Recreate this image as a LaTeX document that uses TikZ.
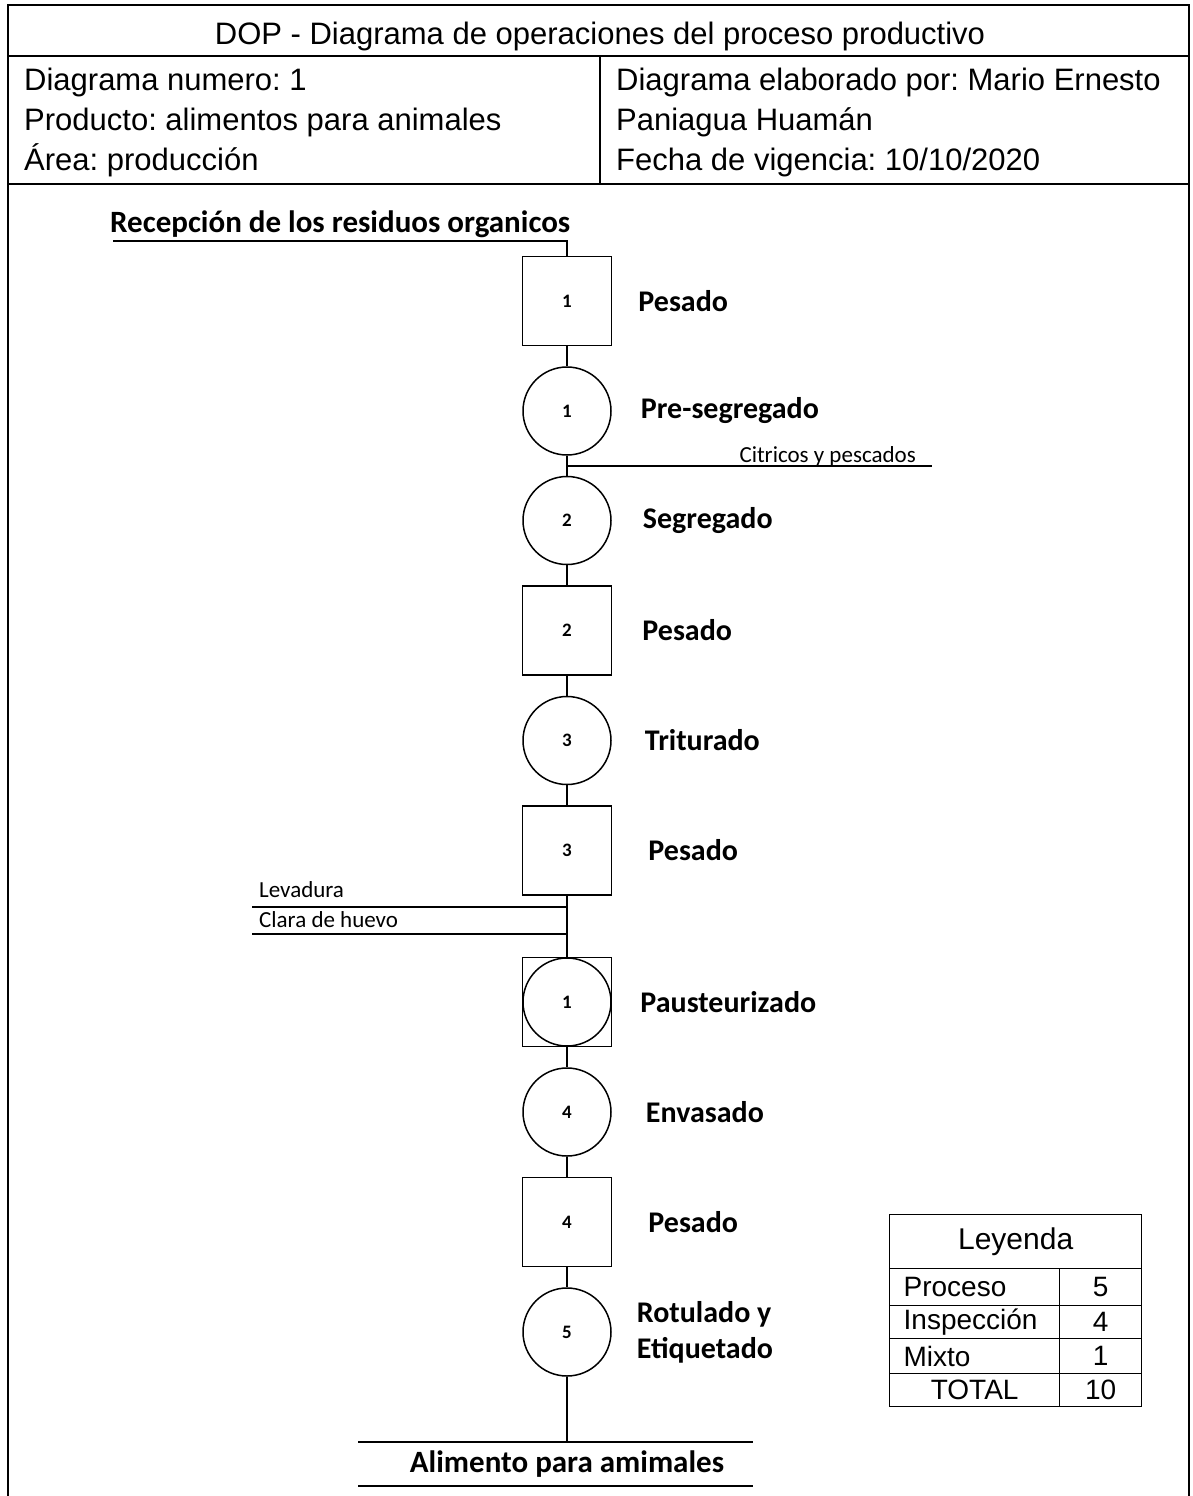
\documentclass[tikz,border=0pt]{standalone}
\usepackage{fontspec}
\setmainfont{Liberation Sans}
\newfontfamily\calibfont{Carlito}
\usetikzlibrary{positioning}
\frenchspacing

\begin{document}
\begin{tikzpicture}[
			x=1pt, y=-1pt,
			node distance=20pt,
			opbox/.style={rectangle, draw, line width=1.5pt, minimum size=89pt, inner sep=0pt, font=\calibfont\bfseries\fontsize{19}{19}\selectfont},
			opcirc/.style={circle, draw, line width=1.5pt, minimum size=88pt, inner sep=0pt, font=\calibfont\bfseries\fontsize{19}{19}\selectfont},
			oplabel/.style={inner sep=0pt, align=left, font=\calibfont\bfseries\fontsize{30}{36}\selectfont},
			sidetext/.style={inner sep=0pt, font=\calibfont\fontsize{23}{23}\selectfont},
			headtext/.style={inner sep=0pt, anchor=base west, font=\fontsize{31}{31}\selectfont},
			legcell/.style={rectangle, draw, line width=1.3pt, inner sep=0pt, font=\fontsize{28}{28}\selectfont},
			flow/.style={line width=1.5pt},
			frame/.style={line width=1.8pt}
			]
			
			\useasboundingbox (0,0) rectangle (1193,1496);
			
			% Header
			\draw[frame] (8,1496) -- (8,5) -- (1189,5) -- (1189,1496);
			\draw[frame] (8,56) -- (1189,56);
			\draw[frame] (8,184) -- (1189,184);
			\draw[frame] (600,56) -- (600,184);
			\node[headtext, anchor=base] (title) at (600,45) {DOP - Diagrama de operaciones del proceso productivo};
			\node[headtext] (dnum) at (24,90) {Diagrama numero: 1};
			\node[headtext] (prod) at (24,130) {Producto: alimentos para animales};
			\node[headtext] (area) at (24,170) {Área: producción};
			\node[headtext] (autor) at (616,90) {Diagrama elaborado por: Mario Ernesto};
			\node[headtext] (autor2) at (616,130) {Paniagua Huamán};
			\node[headtext] (fecha) at (616,170) {Fecha de vigencia: 10/10/2020};
			
			% Input
			\node[oplabel, anchor=base west, font=\calibfont\bfseries\fontsize{31}{31}\selectfont] (recep) at (110,232) {Recepción de los residuos organicos};
			\coordinate (rin) at (113,241);
			
			% Operations
			\node[opbox] (b1) at (567,301) {1};
			\node[opcirc, below=of b1] (c1) {1};
			\node[opcirc, below=of c1] (c2) {2};
			\node[opbox, below=of c2] (b2) {2};
			\node[opcirc, below=of b2] (c3) {3};
			\node[opbox, below=of c3] (b3) {3};
			\node[opbox, below=61pt of b3] (m1) {};
			\node[opcirc] (m1c) at (m1) {1};
			\node[opcirc, below=of m1] (c4) {4};
			\node[opbox, below=of c4] (b4) {4};
			\node[opcirc, below=of b4] (c5) {5};
			
			% Labels
			\node[oplabel, right=26pt of b1] {Pesado};
			\node[oplabel, right=29pt of c1] {Pre-segregado};
			\node[oplabel, right=31pt of c2] {Segregado};
			\node[oplabel, right=30pt of b2] {Pesado};
			\node[oplabel, right=33pt of c3] {Triturado};
			\node[oplabel, right=36pt of b3] {Pesado};
			\node[oplabel, right=28pt of m1] {Pausteurizado};
			\node[oplabel, right=34pt of c4] {Envasado};
			\node[oplabel, right=36pt of b4] {Pesado};
			\node[oplabel, right=25pt of c5] {Rotulado y\\Etiquetado};
			
			% Side lines
			\coordinate (citr) at (932,466);
			\node[sidetext, anchor=base east] (citlbl) at (916,462) {Citricos y pescados};
			\coordinate (lev) at (252,907);
			\node[sidetext, anchor=base west] (levlbl) at (259,897) {Levadura};
			\coordinate (clara) at (252,934);
			\node[sidetext, anchor=base west] (claralbl) at (259,927) {Clara de huevo};
			
			% Output
			\coordinate (outl) at (358,1442);
			\coordinate (outr) at (753,1442);
			\coordinate (outl2) at (358,1486);
			\coordinate (outr2) at (753,1486);
			\node[oplabel, anchor=base, font=\calibfont\bfseries\fontsize{31}{31}\selectfont] (alim) at (567,1472) {Alimento para amimales};
			
			% Connectors
			\draw[flow] (rin) -| (b1.north);
			\draw[flow] (b1) -- (c1);
			\draw[flow] (c1) -- (c2);
			\draw[flow] (c2) -- (b2);
			\draw[flow] (b2) -- (c3);
			\draw[flow] (c3) -- (b3);
			\draw[flow] (b3) -- (m1);
			\draw[flow] (m1) -- (c4);
			\draw[flow] (c4) -- (b4);
			\draw[flow] (b4) -- (c5);
			\draw[flow] (c5) -- (c5 |- outl);
			\draw[flow] (c1.south |- citr) -- (citr);
			\draw[flow] (lev) -- (b3.south |- lev);
			\draw[flow] (clara) -- (b3.south |- clara);
			\draw[flow] (outl) -- (outr);
			\draw[flow] (outl2) -- (outr2);
			
			% Legend
			\node[legcell, minimum width=252pt, minimum height=54pt, anchor=north west, font=\fontsize{30}{30}\selectfont] (leyhead) at (889,1214) {Leyenda};
			\node[legcell, minimum width=170pt, minimum height=37pt, anchor=north west, text width=142pt, align=left] (proc) at (889,1268) {Proceso};
			\node[legcell, minimum width=82pt, minimum height=37pt, anchor=north west] (procn) at (1059,1268) {5};
			\node[legcell, minimum width=170pt, minimum height=33pt, anchor=north west, text width=142pt, align=left] (insp) at (889,1305) {Inspección};
			\node[legcell, minimum width=82pt, minimum height=33pt, anchor=north west] (inspn) at (1059,1305) {4};
			\node[legcell, minimum width=170pt, minimum height=35pt, anchor=north west, text width=142pt, align=left] (mixto) at (889,1338) {Mixto};
			\node[legcell, minimum width=82pt, minimum height=35pt, anchor=north west] (mixton) at (1059,1338) {1};
			\node[legcell, minimum width=170pt, minimum height=33pt, anchor=north west] (total) at (889,1373) {TOTAL};
			\node[legcell, minimum width=82pt, minimum height=33pt, anchor=north west] (totaln) at (1059,1373) {10};
			
		\end{tikzpicture}
\end{document}
